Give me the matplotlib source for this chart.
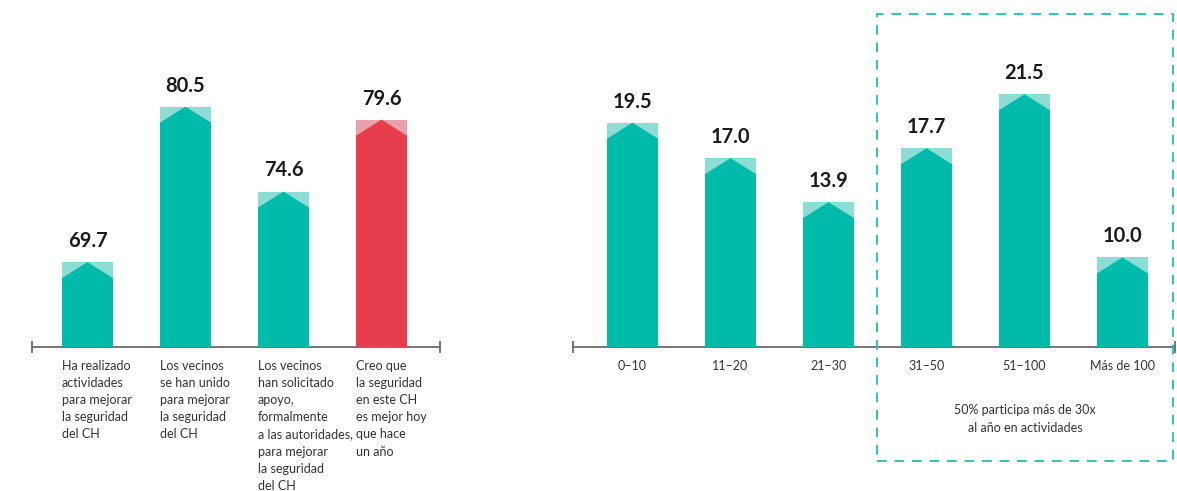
import matplotlib
matplotlib.use("Agg")
import matplotlib.pyplot as plt
from matplotlib.patches import Polygon, Rectangle
from matplotlib.transforms import blended_transform_factory

plt.rcParams['font.family'] = ['Lato', 'DejaVu Sans']

# ---- data ----
left_labels = [
    "Ha realizado\nactividades\npara mejorar\nla seguridad\ndel CH",
    "Los vecinos\nse han unido\npara mejorar\nla seguridad\ndel CH",
    "Los vecinos\nhan solicitado\napoyo,\nformalmente\na las autoridades,\npara mejorar\nla seguridad\ndel CH",
    "Creo que\nla seguridad\nen este CH\nes mejor hoy\nque hace\nun año",
]
left_values = [69.7, 80.5, 74.6, 79.6]
left_highlight = [False, False, False, True]

right_labels = ["0–10", "11–20", "21–30", "31–50", "51–100", "Más de 100"]
right_values = [19.5, 17.0, 13.9, 17.7, 21.5, 10.0]
box_text = "50% participa más de 30x\nal año en actividades"

TEAL = "#00BBAA"
TEAL_L = "#8EDDD4"
RED = "#E83D4C"
RED_L = "#E9A1AB"
AXC = "#6b6b6b"
TXT = "#1a1a1a"
LBL = "#333333"

W, H = 1177, 491
fig = plt.figure(figsize=(W / 100, H / 100), dpi=100)

def px_axes(x0, x1, ytop, ybot):
    return fig.add_axes([x0 / W, 1 - ybot / H, (x1 - x0) / W, (ybot - ytop) / H])

ax1 = px_axes(32, 440, 20, 347)
ax2 = px_axes(573, 1175, 20, 347)

BW = 0.52
CAP_PX = 16

def draw(ax, values, highlights, ylim, xlim):
    ax.set_xlim(*xlim)
    ax.set_ylim(*ylim)
    ppu = (327) / (ylim[1] - ylim[0])
    cap = CAP_PX / ppu
    base = ylim[0]
    for i, v in enumerate(values):
        hl = highlights[i]
        dark = RED if hl else TEAL
        light = RED_L if hl else TEAL_L
        x0, x1 = i - BW / 2, i + BW / 2
        ax.add_patch(Rectangle((x0, base), BW, v - base, facecolor=light,
                               edgecolor='none', zorder=2))
        ax.add_patch(Polygon([(x0, base), (x0, v - cap), (i, v), (x1, v - cap), (x1, base)],
                             closed=True, facecolor=dark, edgecolor='none', zorder=3))
        ax.annotate(f"{v:.1f}", xy=(i, v), xytext=(0, 8), textcoords='offset points',
                    ha='center', va='bottom', fontsize=14.5, fontweight='bold', color=TXT)
    for s in ['top', 'right', 'left']:
        ax.spines[s].set_visible(False)
    ax.spines['bottom'].set_color(AXC)
    ax.spines['bottom'].set_linewidth(1.3)
    ax.set_xticks([])
    ax.set_yticks([])
    ax.plot([xlim[0], xlim[1]], [ylim[0], ylim[0]], linestyle='none', marker='|',
            markersize=8, markeredgewidth=1.3, color=AXC, clip_on=False, zorder=4)

draw(ax1, left_values, left_highlight, (63.8, 63.8 + 327 / 14.39), (-0.566, 3.597))
draw(ax2, right_values, [False] * len(right_values), (3.69, 3.69 + 327 / 14.19), (-0.607, 5.536))

for i, lab in enumerate(left_labels):
    ax1.annotate(lab, xy=(i - BW / 2, 0), xycoords=('data', 'axes fraction'),
                 xytext=(0, -9), textcoords='offset points', ha='left', va='top',
                 fontsize=9, color=LBL, linespacing=1.52)

for i, lab in enumerate(right_labels):
    ax2.annotate(lab, xy=(i, 0), xycoords=('data', 'axes fraction'),
                 xytext=(0, -9.5), textcoords='offset points', ha='center', va='top',
                 fontsize=9, color=LBL)

# dashed box
tr = blended_transform_factory(ax2.transData, fig.transFigure)
bx0 = 2.5
bx1 = 5.536 - 2 / 98
y_top = 1 - 14 / H
y_bot = 1 - 461 / H
rect = Rectangle((bx0, y_bot), bx1 - bx0, y_top - y_bot, transform=tr, fill=False,
                 edgecolor="#2EC4B6", linewidth=1.4, linestyle=(0, (5, 4)), clip_on=False)
fig.add_artist(rect)
fig.text(1025 / W, 1 - 419 / H, box_text, ha='center', va='center', fontsize=9,
         color=LBL, linespacing=1.6)

fig.savefig("out.png", dpi=100)
